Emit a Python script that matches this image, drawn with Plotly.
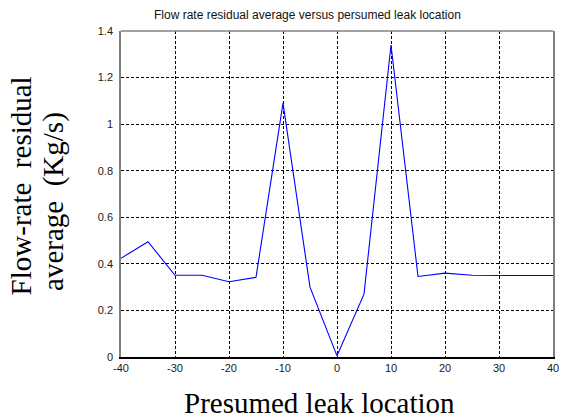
import plotly.graph_objects as go

# Data
locations = [-40, -35, -30, -25, -20, -15, -10, -5, 0, 5, 10, 15, 20, 25, 30, 35, 40]
residual_avg = [0.424, 0.495, 0.351, 0.351, 0.323, 0.342, 1.09, 0.30, 0.005, 0.27,
                1.34, 0.346, 0.36, 0.351, 0.35, 0.35, 0.35]
x_ticks = [-40, -30, -20, -10, 0, 10, 20, 30, 40]
x_ticklabels = ["-40", "-30", "-20", "-10", "0", "10", "20", "30", "40"]
y_ticks = [0, 0.2, 0.4, 0.6, 0.8, 1.0, 1.2, 1.4]
y_ticklabels = ["0", "0.2", "0.4", "0.6", "0.8", "1", "1.2", "1.4"]

title_text = "Flow rate residual average versus persumed leak location"
xlabel = "Presumed leak location"
ylabel_1 = "Flow-rate\u00a0\u00a0residual"
ylabel_2 = "average\u00a0\u00a0(Kg/s)"

sans = "Arial, Liberation Sans, sans-serif"
serif = "Times New Roman, Liberation Serif, serif"

fig = go.Figure()
fig.add_trace(go.Scatter(x=locations, y=residual_avg, mode="lines",
                         line=dict(color="#0000ff", width=1.1), showlegend=False))

W, H = 570, 419
L, R, T, B = 121, 11, 31, 62
pw, ph = W - L - R, H - T - B

def px(xp):
    return (xp - L) / pw

def py(yp):
    return (H - B - yp) / ph

fig.update_layout(
    width=W, height=H,
    margin=dict(l=L, r=R, t=T, b=B, pad=0),
    paper_bgcolor="white", plot_bgcolor="white",
    xaxis=dict(range=[-40, 40], tickvals=x_ticks, ticktext=x_ticklabels, showgrid=True,
               gridcolor="black", gridwidth=1, griddash="3px,2px", zeroline=False,
               showline=True, linecolor="black", linewidth=1.5, mirror=False, ticks="",
               tickfont=dict(family=sans, size=11, color="#1a1a1a")),
    yaxis=dict(range=[0, 1.4], tickvals=y_ticks, ticktext=y_ticklabels, showgrid=True,
               gridcolor="black", gridwidth=1, griddash="3px,2px", zeroline=False,
               showline=True, linecolor="#808080", linewidth=1.5, mirror=True, ticks="",
               ticklabelstandoff=4,
               tickfont=dict(family=sans, size=11, color="#1a1a1a")),
    shapes=[dict(type="line", xref="paper", yref="paper", x0=0, x1=1, y0=1, y1=1,
                 line=dict(color="#808080", width=1.5))],
)

fig.add_annotation(text=title_text, xref="paper", yref="paper", x=px(310), y=py(15),
                   xanchor="center", yanchor="middle", showarrow=False,
                   font=dict(family=sans, size=12, color="#111111"))
fig.add_annotation(text=xlabel, xref="paper", yref="paper", x=px(322), y=py(403),
                   xanchor="center", yanchor="middle", showarrow=False,
                   font=dict(family=serif, size=29, color="black"))
fig.add_annotation(text=ylabel_1, xref="paper", yref="paper", x=px(19.5), y=py(297),
                   xanchor="center", yanchor="bottom", textangle=-90, showarrow=False,
                   font=dict(family=serif, size=29, color="black"))
fig.add_annotation(text=ylabel_2, xref="paper", yref="paper", x=px(52.5), y=py(293),
                   xanchor="center", yanchor="bottom", textangle=-90, showarrow=False,
                   font=dict(family=serif, size=29, color="black"))

fig.write_html("out.html")
